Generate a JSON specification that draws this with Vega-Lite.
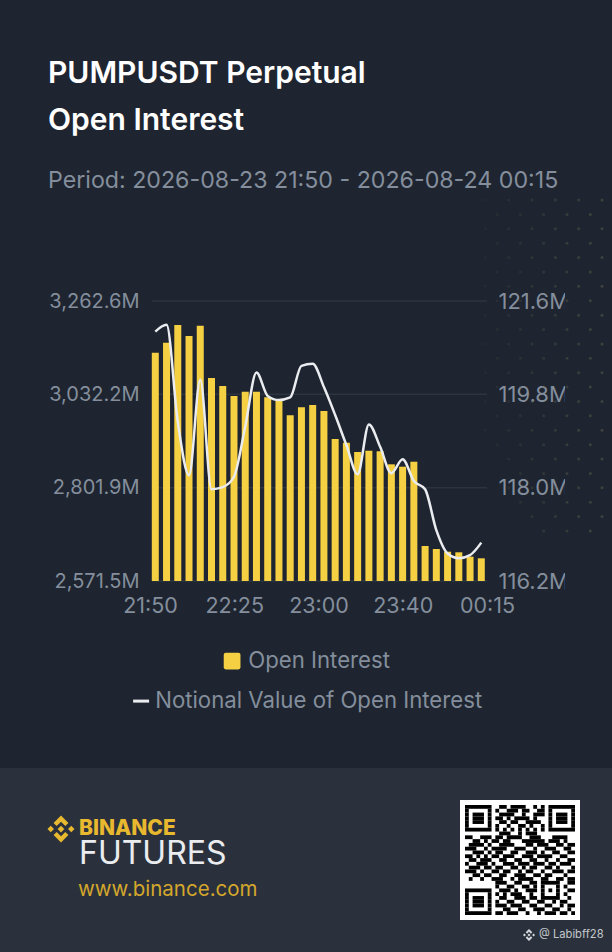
{
"$schema":"https://vega.github.io/schema/vega-lite/v6.json",
"width":612,"height":952,"padding":0,"autosize":{"type":"none"},
"background":"#1e2530",
"config":{"view":{"stroke":null},"font":"Inter"},
"datasets":{
"oi":[
{"time":"2026-08-23T21:50:00","oi":3135.0,"notional":121.01},
{"time":"2026-08-23T21:55:00","oi":3159.6,"notional":121.14},
{"time":"2026-08-23T22:00:00","oi":3203.3,"notional":119.27},
{"time":"2026-08-23T22:05:00","oi":3176.2,"notional":118.24},
{"time":"2026-08-23T22:10:00","oi":3201.6,"notional":120.08},
{"time":"2026-08-23T22:15:00","oi":3072.5,"notional":117.97},
{"time":"2026-08-23T22:20:00","oi":3052.8,"notional":118.01},
{"time":"2026-08-23T22:25:00","oi":3028.1,"notional":118.21},
{"time":"2026-08-23T22:30:00","oi":3038.7,"notional":119.18},
{"time":"2026-08-23T22:35:00","oi":3038.7,"notional":120.22},
{"time":"2026-08-23T22:40:00","oi":3024.9,"notional":119.77},
{"time":"2026-08-23T22:45:00","oi":3016.5,"notional":119.69},
{"time":"2026-08-23T22:50:00","oi":2980.5,"notional":119.74},
{"time":"2026-08-23T22:55:00","oi":3000.2,"notional":120.35},
{"time":"2026-08-23T23:00:00","oi":3005.9,"notional":120.39},
{"time":"2026-08-23T23:05:00","oi":2991.1,"notional":119.94},
{"time":"2026-08-23T23:10:00","oi":2922.0,"notional":119.40},
{"time":"2026-08-23T23:15:00","oi":2912.8,"notional":118.82},
{"time":"2026-08-23T23:20:00","oi":2889.9,"notional":118.26},
{"time":"2026-08-23T23:25:00","oi":2893.1,"notional":119.22},
{"time":"2026-08-23T23:30:00","oi":2891.6,"notional":118.79},
{"time":"2026-08-23T23:35:00","oi":2859.5,"notional":118.28},
{"time":"2026-08-23T23:40:00","oi":2853.6,"notional":118.55},
{"time":"2026-08-23T23:45:00","oi":2865.9,"notional":118.13},
{"time":"2026-08-23T23:50:00","oi":2657.9,"notional":117.97},
{"time":"2026-08-23T23:55:00","oi":2650.5,"notional":117.18},
{"time":"2026-08-24T00:00:00","oi":2643.8,"notional":116.73},
{"time":"2026-08-24T00:05:00","oi":2642.3,"notional":116.64},
{"time":"2026-08-24T00:10:00","oi":2631.5,"notional":116.70},
{"time":"2026-08-24T00:15:00","oi":2627.5,"notional":116.94}
],
"dots":[
{"v":0,"u":-2},{"v":0,"u":0},{"v":0,"u":2},{"v":0,"u":4},{"v":0,"u":6},{"v":0,"u":8},
{"v":1,"u":-1},{"v":1,"u":1},{"v":1,"u":3},{"v":1,"u":5},{"v":1,"u":7},
{"v":2,"u":-2},{"v":2,"u":0},{"v":2,"u":2},{"v":2,"u":4},{"v":2,"u":6},{"v":2,"u":8},
{"v":3,"u":-1},{"v":3,"u":1},{"v":3,"u":3},{"v":3,"u":5},{"v":3,"u":7},
{"v":4,"u":-2},{"v":4,"u":0},{"v":4,"u":2},{"v":4,"u":4},{"v":4,"u":6},{"v":4,"u":8},
{"v":5,"u":-1},{"v":5,"u":1},{"v":5,"u":3},{"v":5,"u":5},{"v":5,"u":7},
{"v":6,"u":-2},{"v":6,"u":0},{"v":6,"u":2},{"v":6,"u":4},{"v":6,"u":6},{"v":6,"u":8},
{"v":7,"u":-1},{"v":7,"u":1},{"v":7,"u":3},{"v":7,"u":5},{"v":7,"u":7},
{"v":8,"u":-2},{"v":8,"u":0},{"v":8,"u":2},{"v":8,"u":4},{"v":8,"u":6},{"v":8,"u":8},
{"v":9,"u":-1},{"v":9,"u":1},{"v":9,"u":3},{"v":9,"u":5},{"v":9,"u":7},
{"v":10,"u":-2},{"v":10,"u":0},{"v":10,"u":2},{"v":10,"u":4},{"v":10,"u":6},{"v":10,"u":8},
{"v":11,"u":-1},{"v":11,"u":1},{"v":11,"u":3},{"v":11,"u":5},{"v":11,"u":7},
{"v":12,"u":-2},{"v":12,"u":0},{"v":12,"u":2},{"v":12,"u":4},{"v":12,"u":6},{"v":12,"u":8},
{"v":13,"u":-1},{"v":13,"u":1},{"v":13,"u":3},{"v":13,"u":5},{"v":13,"u":7},
{"v":14,"u":-2},{"v":14,"u":0},{"v":14,"u":2},{"v":14,"u":4},{"v":14,"u":6},{"v":14,"u":8},
{"v":15,"u":-1},{"v":15,"u":1},{"v":15,"u":3},{"v":15,"u":5},{"v":15,"u":7},
{"v":16,"u":-2},{"v":16,"u":0},{"v":16,"u":2},{"v":16,"u":4},{"v":16,"u":6},{"v":16,"u":8},
{"v":17,"u":-1},{"v":17,"u":1},{"v":17,"u":3},{"v":17,"u":5},{"v":17,"u":7},
{"v":18,"u":0},{"v":18,"u":2},{"v":18,"u":4},{"v":18,"u":6},{"v":18,"u":8},
{"v":19,"u":1},{"v":19,"u":3},{"v":19,"u":5},{"v":19,"u":7},
{"v":20,"u":0},{"v":20,"u":2},{"v":20,"u":4},{"v":20,"u":6},{"v":20,"u":8},
{"v":21,"u":1},{"v":21,"u":3},{"v":21,"u":5},{"v":21,"u":7},
{"v":22,"u":2},{"v":22,"u":4},{"v":22,"u":6},{"v":22,"u":8},
{"v":23,"u":3},{"v":23,"u":5},{"v":23,"u":7}
],
"qr":[
{"r":0,"a":0,"e":7},{"r":0,"a":9,"e":11},{"r":0,"a":12,"e":16},{"r":0,"a":18,"e":19},{"r":0,"a":20,"e":21},{"r":0,"a":22,"e":29},
{"r":1,"a":0,"e":1},{"r":1,"a":6,"e":7},{"r":1,"a":8,"e":9},{"r":1,"a":11,"e":14},{"r":1,"a":15,"e":17},{"r":1,"a":19,"e":21},{"r":1,"a":22,"e":23},{"r":1,"a":28,"e":29},
{"r":2,"a":0,"e":1},{"r":2,"a":2,"e":5},{"r":2,"a":6,"e":7},{"r":2,"a":9,"e":13},{"r":2,"a":15,"e":16},{"r":2,"a":18,"e":21},{"r":2,"a":22,"e":23},{"r":2,"a":24,"e":27},{"r":2,"a":28,"e":29},
{"r":3,"a":0,"e":1},{"r":3,"a":2,"e":5},{"r":3,"a":6,"e":7},{"r":3,"a":8,"e":10},{"r":3,"a":11,"e":12},{"r":3,"a":13,"e":17},{"r":3,"a":18,"e":19},{"r":3,"a":22,"e":23},{"r":3,"a":24,"e":27},{"r":3,"a":28,"e":29},
{"r":4,"a":0,"e":1},{"r":4,"a":2,"e":5},{"r":4,"a":6,"e":7},{"r":4,"a":9,"e":11},{"r":4,"a":12,"e":14},{"r":4,"a":16,"e":20},{"r":4,"a":22,"e":23},{"r":4,"a":24,"e":27},{"r":4,"a":28,"e":29},
{"r":5,"a":0,"e":1},{"r":5,"a":6,"e":7},{"r":5,"a":8,"e":9},{"r":5,"a":11,"e":12},{"r":5,"a":14,"e":16},{"r":5,"a":17,"e":18},{"r":5,"a":20,"e":21},{"r":5,"a":22,"e":23},{"r":5,"a":28,"e":29},
{"r":6,"a":0,"e":7},{"r":6,"a":8,"e":9},{"r":6,"a":10,"e":11},{"r":6,"a":12,"e":13},{"r":6,"a":14,"e":15},{"r":6,"a":16,"e":17},{"r":6,"a":18,"e":19},{"r":6,"a":20,"e":21},{"r":6,"a":22,"e":29},
{"r":7,"a":9,"e":12},{"r":7,"a":14,"e":15},{"r":7,"a":16,"e":19},
{"r":8,"a":0,"e":2},{"r":8,"a":4,"e":7},{"r":8,"a":8,"e":10},{"r":8,"a":11,"e":15},{"r":8,"a":17,"e":20},{"r":8,"a":23,"e":27},
{"r":9,"a":2,"e":4},{"r":9,"a":5,"e":6},{"r":9,"a":7,"e":9},{"r":9,"a":10,"e":12},{"r":9,"a":15,"e":21},{"r":9,"a":22,"e":25},{"r":9,"a":26,"e":27},
{"r":10,"a":1,"e":5},{"r":10,"a":6,"e":7},{"r":10,"a":9,"e":13},{"r":10,"a":16,"e":18},{"r":10,"a":19,"e":22},{"r":10,"a":24,"e":26},{"r":10,"a":27,"e":29},
{"r":11,"a":0,"e":3},{"r":11,"a":5,"e":6},{"r":11,"a":7,"e":11},{"r":11,"a":13,"e":16},{"r":11,"a":18,"e":19},{"r":11,"a":21,"e":24},{"r":11,"a":26,"e":28},
{"r":12,"a":2,"e":5},{"r":12,"a":6,"e":7},{"r":12,"a":8,"e":10},{"r":12,"a":12,"e":14},{"r":12,"a":16,"e":19},{"r":12,"a":20,"e":21},{"r":12,"a":23,"e":25},{"r":12,"a":27,"e":29},
{"r":13,"a":0,"e":2},{"r":13,"a":3,"e":4},{"r":13,"a":5,"e":6},{"r":13,"a":7,"e":9},{"r":13,"a":10,"e":13},{"r":13,"a":15,"e":18},{"r":13,"a":19,"e":23},{"r":13,"a":25,"e":27},
{"r":14,"a":1,"e":3},{"r":14,"a":4,"e":7},{"r":14,"a":9,"e":11},{"r":14,"a":13,"e":15},{"r":14,"a":17,"e":19},{"r":14,"a":21,"e":22},{"r":14,"a":24,"e":25},{"r":14,"a":27,"e":29},
{"r":15,"a":0,"e":1},{"r":15,"a":3,"e":6},{"r":15,"a":7,"e":8},{"r":15,"a":10,"e":13},{"r":15,"a":14,"e":17},{"r":15,"a":18,"e":21},{"r":15,"a":22,"e":24},{"r":15,"a":25,"e":28},
{"r":16,"a":1,"e":4},{"r":16,"a":5,"e":7},{"r":16,"a":8,"e":10},{"r":16,"a":12,"e":14},{"r":16,"a":15,"e":16},{"r":16,"a":17,"e":19},{"r":16,"a":21,"e":23},{"r":16,"a":24,"e":25},{"r":16,"a":28,"e":29},
{"r":17,"a":0,"e":3},{"r":17,"a":4,"e":5},{"r":17,"a":7,"e":9},{"r":17,"a":10,"e":12},{"r":17,"a":14,"e":15},{"r":17,"a":16,"e":18},{"r":17,"a":20,"e":21},{"r":17,"a":23,"e":26},{"r":17,"a":27,"e":29},
{"r":18,"a":2,"e":4},{"r":18,"a":5,"e":7},{"r":18,"a":9,"e":11},{"r":18,"a":13,"e":16},{"r":18,"a":18,"e":20},{"r":18,"a":21,"e":23},{"r":18,"a":26,"e":27},
{"r":19,"a":1,"e":2},{"r":19,"a":4,"e":5},{"r":19,"a":7,"e":10},{"r":19,"a":12,"e":13},{"r":19,"a":14,"e":18},{"r":19,"a":20,"e":22},{"r":19,"a":24,"e":26},{"r":19,"a":27,"e":29},
{"r":20,"a":8,"e":11},{"r":20,"a":13,"e":15},{"r":20,"a":17,"e":19},{"r":20,"a":20,"e":25},{"r":20,"a":27,"e":29},
{"r":21,"a":8,"e":9},{"r":21,"a":11,"e":13},{"r":21,"a":15,"e":17},{"r":21,"a":18,"e":19},{"r":21,"a":20,"e":21},{"r":21,"a":24,"e":25},{"r":21,"a":26,"e":27},
{"r":22,"a":0,"e":7},{"r":22,"a":9,"e":12},{"r":22,"a":13,"e":14},{"r":22,"a":16,"e":19},{"r":22,"a":20,"e":21},{"r":22,"a":22,"e":23},{"r":22,"a":24,"e":25},{"r":22,"a":27,"e":29},
{"r":23,"a":0,"e":1},{"r":23,"a":6,"e":7},{"r":23,"a":8,"e":9},{"r":23,"a":10,"e":11},{"r":23,"a":12,"e":15},{"r":23,"a":17,"e":18},{"r":23,"a":20,"e":21},{"r":23,"a":24,"e":25},{"r":23,"a":26,"e":27},
{"r":24,"a":0,"e":1},{"r":24,"a":2,"e":5},{"r":24,"a":6,"e":7},{"r":24,"a":9,"e":11},{"r":24,"a":13,"e":16},{"r":24,"a":17,"e":19},{"r":24,"a":20,"e":25},{"r":24,"a":27,"e":28},
{"r":25,"a":0,"e":1},{"r":25,"a":2,"e":5},{"r":25,"a":6,"e":7},{"r":25,"a":8,"e":9},{"r":25,"a":11,"e":13},{"r":25,"a":15,"e":17},{"r":25,"a":19,"e":21},{"r":25,"a":23,"e":24},{"r":25,"a":25,"e":27},
{"r":26,"a":0,"e":1},{"r":26,"a":2,"e":5},{"r":26,"a":6,"e":7},{"r":26,"a":8,"e":11},{"r":26,"a":12,"e":15},{"r":26,"a":17,"e":19},{"r":26,"a":21,"e":23},{"r":26,"a":25,"e":26},{"r":26,"a":27,"e":29},
{"r":27,"a":0,"e":1},{"r":27,"a":6,"e":7},{"r":27,"a":10,"e":12},{"r":27,"a":14,"e":16},{"r":27,"a":18,"e":21},{"r":27,"a":23,"e":25},{"r":27,"a":27,"e":28},
{"r":28,"a":0,"e":7},{"r":28,"a":8,"e":10},{"r":28,"a":11,"e":14},{"r":28,"a":16,"e":17},{"r":28,"a":19,"e":20},{"r":28,"a":21,"e":24},{"r":28,"a":25,"e":27},{"r":28,"a":28,"e":29}
]
},
"resolve":{"scale":{"x":"independent","y":"independent","color":"independent","stroke":"independent"},"axis":{"x":"independent","y":"independent"}},
"layer":[
{"data":{"values":[{"band":"footer"}]},"mark":{"type":"rect","color":"#2a313c"},
 "encoding":{
  "x":{"datum":0,"type":"quantitative","scale":{"domain":[0,1],"range":[0,612]},"axis":null},"x2":{"datum":1},
  "y":{"datum":0,"type":"quantitative","scale":{"domain":[0,1],"range":[768,952]},"axis":null},"y2":{"datum":1}}},
{"data":{"values":[{"band":"qr"}]},"mark":{"type":"rect","color":"#ffffff"},
 "encoding":{
  "x":{"datum":0,"type":"quantitative","scale":{"domain":[0,1],"range":[460,580]},"axis":null},"x2":{"datum":1},
  "y":{"datum":0,"type":"quantitative","scale":{"domain":[0,1],"range":[800,920]},"axis":null},"y2":{"datum":1}}},
{"data":{"name":"qr"},"mark":{"type":"rect","color":"#000000"},
 "encoding":{
  "x":{"field":"a","type":"quantitative","scale":{"domain":[0,29],"range":[465,575]},"axis":null},"x2":{"field":"e"},
  "y":{"field":"r","type":"ordinal","scale":{"type":"band","range":[805,915],"paddingInner":0,"paddingOuter":0},"axis":null}}},
{"data":{"values":[{"tick":2571.5},{"tick":2801.9},{"tick":3032.2},{"tick":3262.6}]},"mark":{"type":"rule","color":"#2c3440","strokeWidth":1.5},
 "encoding":{
  "x":{"datum":0,"type":"quantitative","scale":{"domain":[0,1],"range":[152,487]},"axis":null},"x2":{"datum":1},
  "y":{"field":"tick","type":"quantitative","scale":{"domain":[2571.5,3262.6],"range":[581,301]},"axis":null}}},
{"data":{"name":"oi"},"mark":{"type":"bar","width":7},
 "encoding":{
  "x":{"field":"time","type":"temporal","scale":{"domain":["2026-08-23T21:50:00","2026-08-24T00:15:00"],"range":[155.3,481.3],"padding":0},"axis":null},
  "y":{"field":"oi","type":"quantitative","stack":null,"scale":{"domain":[2571.5,3262.6],"range":[581,301]},
   "axis":{"orient":"left","offset":-139,"values":[2571.5,2801.9,3032.2,3262.6],"labelExpr":"format(datum.value,',.1f')+'M'","domain":false,"ticks":false,"grid":false,"title":null,"labelPadding":0,"labelFontSize":20,"labelColor":"#848e9c"}},
  "y2":{"datum":2571.5},
  "color":{"datum":"Open Interest","type":"nominal","scale":{"domain":["Open Interest"],"range":["#f6d043"]},
   "legend":{"orient":"none","legendX":221,"legendY":650,"title":null,"symbolType":"M-0.75,-1H0.75Q1,-1 1,-0.75V0.75Q1,1 0.75,1H-0.75Q-1,1 -1,0.75V-0.75Q-1,-1 -0.75,-1Z","symbolSize":280,"symbolStrokeWidth":0,"labelFontSize":22.2,"labelColor":"#848e9c","labelOffset":5,"labelLimit":400}}}},
{"data":{"name":"oi"},"mark":{"type":"line","interpolate":"monotone","strokeWidth":2.5},
 "encoding":{
  "x":{"field":"time","type":"temporal","scale":{"domain":["2026-08-23T21:50:00","2026-08-24T00:15:00"],"range":[155.3,481.3]},"axis":null},
  "y":{"field":"notional","type":"quantitative","scale":{"domain":[116.2,121.6],"range":[581,301]},
   "axis":{"orient":"right","offset":-114,"values":[116.2,118.0,119.8,121.6],"labelExpr":"format(datum.value,'.1f')+'M'","domain":false,"ticks":false,"grid":false,"title":null,"labelPadding":0,"labelFontSize":22,"labelColor":"#848e9c"}},
  "stroke":{"datum":"Notional Value of Open Interest","type":"nominal","scale":{"domain":["Notional Value of Open Interest"],"range":["#eaecef"]},
   "legend":{"orient":"none","legendX":130,"legendY":690,"title":null,"symbolType":"stroke","symbolSize":256,"symbolStrokeWidth":3,"labelFontSize":22.2,"labelColor":"#848e9c","labelOffset":3,"labelLimit":400}}}},
{"data":{"values":[{"band":"clip"}]},"mark":{"type":"rect","color":"#1e2530"},
 "encoding":{
  "x":{"datum":0,"type":"quantitative","scale":{"domain":[0,1],"range":[565,590]},"axis":null},"x2":{"datum":1},
  "y":{"datum":0,"type":"quantitative","scale":{"domain":[0,1],"range":[285,595]},"axis":null},"y2":{"datum":1}}},
{"data":{"name":"dots"},"mark":{"type":"point","filled":true,"color":"#5a5a48","size":9},
 "encoding":{
  "x":{"field":"u","type":"quantitative","scale":{"domain":[0,8],"range":[508.7,602],"nice":false,"zero":false},"axis":null},
  "y":{"field":"v","type":"quantitative","scale":{"domain":[0,23],"range":[200,531],"nice":false,"zero":false},"axis":null},
  "opacity":{"field":"u","type":"quantitative","scale":{"domain":[-2,8],"range":[0.12,0.55]},"legend":null}}},
{"data":{"values":[{"time":"21:50"},{"time":"22:25"},{"time":"23:00"},{"time":"23:40"},{"time":"00:15"}]},"mark":{"type":"point","opacity":0},
 "encoding":{
  "x":{"field":"time","type":"ordinal","sort":null,"scale":{"type":"point","padding":0,"range":[150,487]},
   "axis":{"orient":"bottom","offset":-357,"domain":false,"ticks":false,"grid":false,"title":null,"labelPadding":0,"labelAngle":0,"labelFontSize":21.5,"labelColor":"#848e9c"}}}},
{"data":{"values":[{"logo":"binance"}]},"mark":{"type":"point","filled":true,"color":"#e8b82f","opacity":1,"size":729,"shape":"M0,-1L0.55,-0.45L0.32,-0.22L0,-0.54L-0.32,-0.22L-0.55,-0.45ZM0,1L0.55,0.45L0.32,0.22L0,0.54L-0.32,0.22L-0.55,0.45ZM0,-0.25L0.25,0L0,0.25L-0.25,0ZM-1,0L-0.76,-0.24L-0.52,0L-0.76,0.24ZM1,0L0.76,-0.24L0.52,0L0.76,0.24Z"},
 "encoding":{
  "x":{"field":"logo","type":"nominal","scale":{"type":"point","range":[61,61]},"axis":null},
  "y":{"field":"logo","type":"nominal","scale":{"type":"point","range":[829,829]},"axis":null}}},
{"data":{"values":[{"logo":"watermark"}]},"mark":{"type":"point","filled":true,"color":"#d5d8dc","opacity":1,"size":144,"shape":"M0,-1L0.55,-0.45L0.32,-0.22L0,-0.54L-0.32,-0.22L-0.55,-0.45ZM0,1L0.55,0.45L0.32,0.22L0,0.54L-0.32,0.22L-0.55,0.45ZM0,-0.25L0.25,0L0,0.25L-0.25,0ZM-1,0L-0.76,-0.24L-0.52,0L-0.76,0.24ZM1,0L0.76,-0.24L0.52,0L0.76,0.24Z"},
 "encoding":{
  "x":{"field":"logo","type":"nominal","scale":{"type":"point","range":[529,529]},"axis":null},
  "y":{"field":"logo","type":"nominal","scale":{"type":"point","range":[935,935]},"axis":null}}},
{"data":{"values":[{"label":"PUMPUSDT Perpetual"},{"label":"Open Interest"}]},"mark":{"type":"text","align":"left","baseline":"middle","fontSize":30,"fontWeight":600,"color":"#ffffff"},
 "encoding":{"text":{"field":"label"},
  "x":{"field":"label","type":"nominal","sort":null,"scale":{"type":"point","range":[48,48]},"axis":null},
  "y":{"field":"label","type":"nominal","sort":null,"scale":{"type":"point","padding":0,"range":[74,121]},"axis":null}}},
{"data":{"values":[{"label":"Period: 2026-08-23 21:50 - 2026-08-24 00:15"}]},"mark":{"type":"text","align":"left","baseline":"middle","fontSize":23.2,"color":"#848e9c"},
 "encoding":{"text":{"field":"label"},
  "x":{"field":"label","type":"nominal","scale":{"type":"point","range":[48,48]},"axis":null},
  "y":{"field":"label","type":"nominal","scale":{"type":"point","range":[181,181]},"axis":null}}},
{"data":{"values":[{"label":"BINANCE"}]},"mark":{"type":"text","align":"left","baseline":"middle","fontSize":21,"fontWeight":800,"color":"#e8b82f"},
 "encoding":{"text":{"field":"label"},
  "x":{"field":"label","type":"nominal","scale":{"type":"point","range":[79,79]},"axis":null},
  "y":{"field":"label","type":"nominal","scale":{"type":"point","range":[829,829]},"axis":null}}},
{"data":{"values":[{"label":"FUTURES"}]},"mark":{"type":"text","align":"left","baseline":"middle","fontSize":32,"color":"#eaecef"},
 "encoding":{"text":{"field":"label"},
  "x":{"field":"label","type":"nominal","scale":{"type":"point","range":[79,79]},"axis":null},
  "y":{"field":"label","type":"nominal","scale":{"type":"point","range":[854,854]},"axis":null}}},
{"data":{"values":[{"label":"www.binance.com"}]},"mark":{"type":"text","align":"left","baseline":"middle","fontSize":20.5,"color":"#d4a72c"},
 "encoding":{"text":{"field":"label"},
  "x":{"field":"label","type":"nominal","scale":{"type":"point","range":[78,78]},"axis":null},
  "y":{"field":"label","type":"nominal","scale":{"type":"point","range":[890,890]},"axis":null}}},
{"data":{"values":[{"label":"@ Labibff28"}]},"mark":{"type":"text","align":"left","baseline":"middle","fontSize":11.2,"color":"#c4c8cd"},
 "encoding":{"text":{"field":"label"},
  "x":{"field":"label","type":"nominal","scale":{"type":"point","range":[539,539]},"axis":null},
  "y":{"field":"label","type":"nominal","scale":{"type":"point","range":[935,935]},"axis":null}}}
]
}
